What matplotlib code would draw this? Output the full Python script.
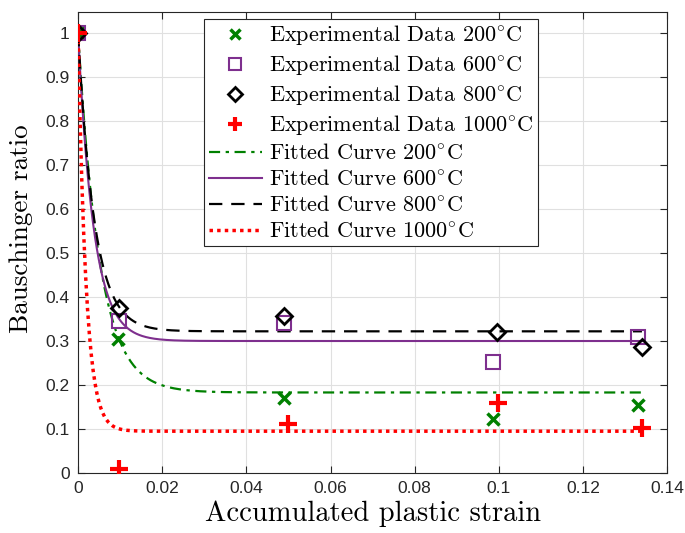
import matplotlib
matplotlib.use('Agg')
import matplotlib.pyplot as plt
import numpy as np
from matplotlib.ticker import FuncFormatter

# measured Bauschinger ratio vs accumulated plastic strain
strain_200 = [0.0, 0.0095, 0.049, 0.0985, 0.133]
ratio_200 = [1.0, 0.305, 0.170, 0.122, 0.155]
strain_600 = [0.0, 0.0097, 0.049, 0.0985, 0.133]
ratio_600 = [1.0, 0.345, 0.340, 0.253, 0.310]
strain_800 = [0.0, 0.0097, 0.049, 0.0995, 0.134]
ratio_800 = [1.0, 0.375, 0.357, 0.320, 0.287]
strain_1000 = [0.0, 0.0098, 0.050, 0.0997, 0.134]
ratio_1000 = [1.0, 0.010, 0.112, 0.160, 0.102]

# fitted curves: r = r_sat + (1 - r_sat) * exp(-eps / eps0)
temps = ['200', '600', '800', '1000']
r_sat = [0.183, 0.300, 0.322, 0.095]
eps0 = [0.0051, 0.0037, 0.0039, 0.0019]
fit_end = 0.134

plt.rcParams['font.family'] = ['cmr10', 'DejaVu Serif']
plt.rcParams['mathtext.fontset'] = 'cm'
plt.rcParams['axes.unicode_minus'] = False

fig = plt.figure(figsize=(6.85, 5.33), dpi=100)
ax = fig.add_axes([0.114, 0.1126, 0.86, 0.865])

green = '#008000'
purple = '#7E2F8E'
red = '#ff0000'

deg = r'$^{\circ}$C'
ax.plot(strain_200, ratio_200, 'x', color=green, ms=9, mew=2.5, ls='none',
        label='Experimental Data 200' + deg, zorder=5)
ax.plot(strain_600, ratio_600, 's', color=purple, mfc='none', ms=10.5, mew=1.5, ls='none',
        label='Experimental Data 600' + deg, zorder=5)
ax.plot(strain_800, ratio_800, 'D', color='black', mfc='none', ms=8.5, mew=2, ls='none',
        label='Experimental Data 800' + deg, zorder=5)
ax.plot(strain_1000, ratio_1000, '+', color=red, ms=13, mew=3, ls='none',
        label='Experimental Data 1000' + deg, zorder=5)

xs = np.linspace(0, fit_end, 600)
styles = [(green, (0, (5, 2.5, 1.5, 2.5)), 1.6), (purple, '-', 1.5),
          ('black', (0, (6, 4)), 1.6), (red, (0, (1, 1.2)), 2.5)]
for t, rs, e0, (c, ls, lw) in zip(temps, r_sat, eps0, styles):
    ys = rs + (1 - rs) * np.exp(-xs / e0)
    ax.plot(xs, ys, color=c, ls=ls, lw=lw, label='Fitted Curve ' + t + deg, zorder=4)

ax.set_xlim(0, 0.14)
ax.set_ylim(0, 1.048)
ax.set_xticks(np.arange(0, 0.141, 0.02))
ax.set_yticks(np.arange(0, 1.01, 0.1))
fmt = FuncFormatter(lambda v, p: ('%g' % round(v, 4)))
ax.xaxis.set_major_formatter(fmt)
ax.yaxis.set_major_formatter(fmt)
for lab in ax.get_xticklabels() + ax.get_yticklabels():
    lab.set_fontfamily('Liberation Sans')
    lab.set_fontsize(12.5)
    lab.set_color('#262626')
ax.tick_params(direction='in', top=True, right=True, length=5, width=0.8,
               colors='#262626', pad=6)
ax.grid(True, color='#e0e0e0', lw=0.8)
ax.set_axisbelow(True)
for s in ax.spines.values():
    s.set_color('#262626')
    s.set_linewidth(0.8)

ax.set_xlabel('Accumulated plastic strain', fontsize=20.5, labelpad=3)
ax.set_ylabel('Bauschinger ratio', fontsize=19.5)
ax.yaxis.set_label_coords(-0.077, 0.53)

leg = ax.legend(loc='upper left', bbox_to_anchor=(0.214, 0.985), fontsize=16,
                frameon=True, fancybox=False, edgecolor='#262626', framealpha=1,
                handlelength=2.4, handletextpad=0.3, labelspacing=0.27,
                borderpad=0.2, borderaxespad=0, markerscale=0.8)
leg.get_frame().set_linewidth(0.8)

fig.savefig('out.png', dpi=100)
